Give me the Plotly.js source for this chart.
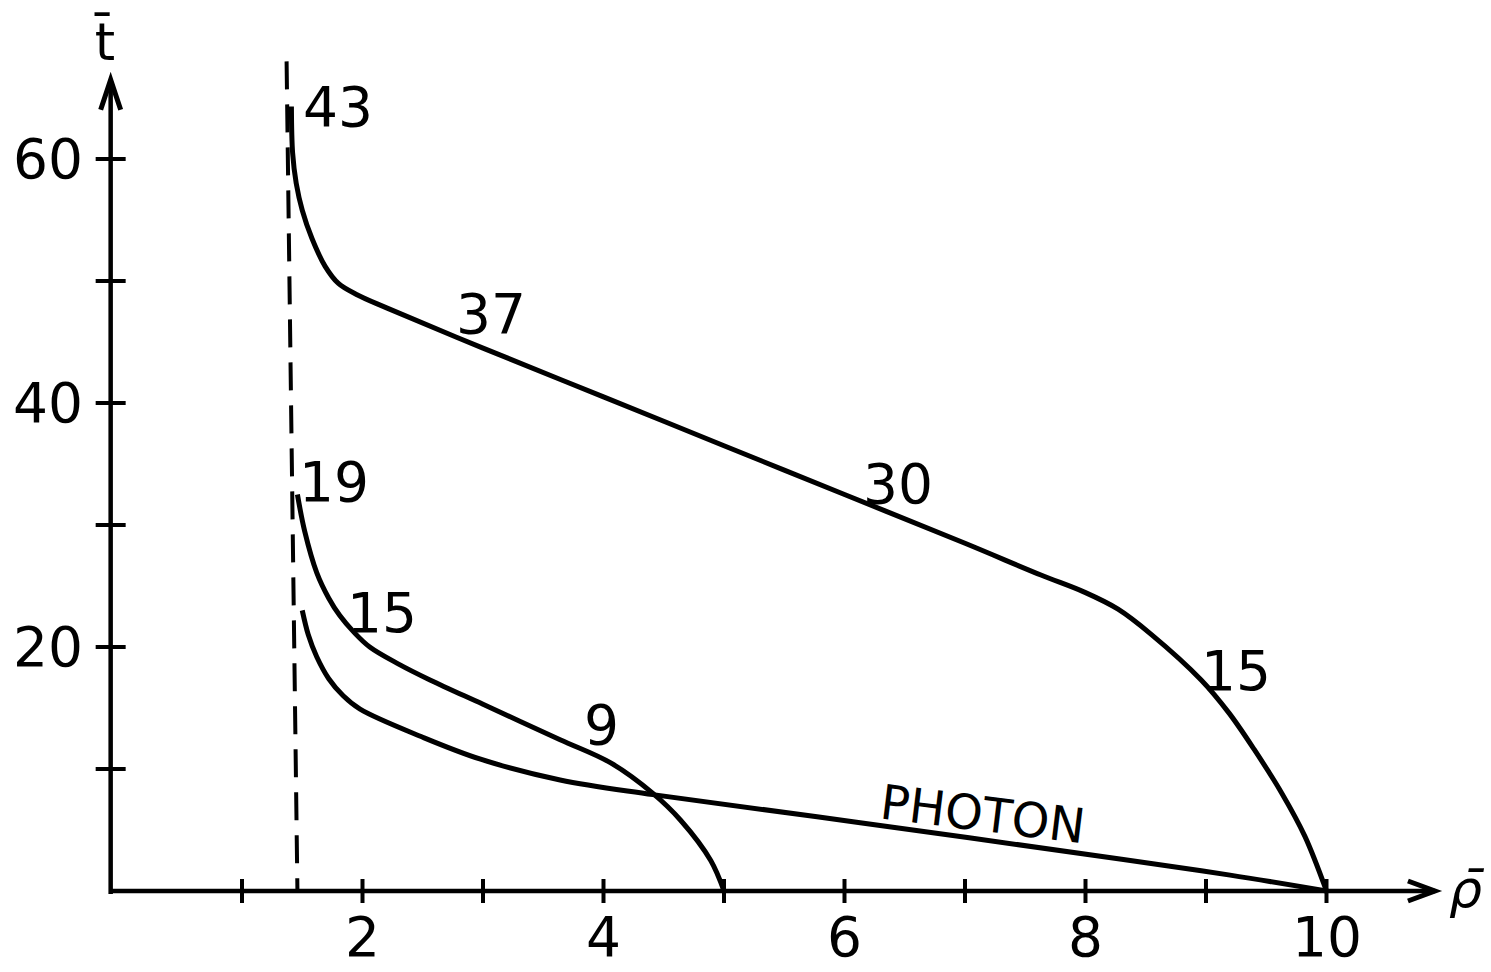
<!DOCTYPE html>
<html>
<head>
<meta charset="utf-8">
<script src="https://cdn.plot.ly/plotly-3.0.1.min.js"></script>
<style>html,body{margin:0;padding:0;background:#fff;}#chart{width:1491px;height:972px;}</style>
</head>
<body>
<div id="chart"></div>
<script>
// ---- data ----
const topCurveX = [1.41, 1.42, 1.45, 1.50, 1.58, 1.69, 1.80, 1.95, 2.2, 3.0, 4.0, 5.0, 6.0, 7.0, 7.63, 7.99, 8.27, 8.55, 8.96, 9.19, 9.40, 9.63, 9.82, 10.0];
const topCurveY = [64.3, 60.5, 58.0, 55.8, 53.5, 51.2, 49.8, 48.9, 47.8, 44.5, 40.5, 36.5, 32.5, 28.5, 25.9, 24.5, 23.1, 21.0, 17.3, 14.6, 11.6, 8.0, 4.5, 0];

const midCurveX = [1.46, 1.52, 1.62, 1.72, 1.81, 1.93, 2.06, 2.3, 2.56, 3.0, 3.64, 4.06, 4.41, 4.64, 4.89, 5.0];
const midCurveY = [32.5, 29.5, 26.1, 24.0, 22.6, 21.2, 20.0, 18.6, 17.3, 15.3, 12.4, 10.5, 8.0, 5.8, 2.5, 0];

const photonX = [1.50, 1.55, 1.62, 1.72, 1.84, 1.98, 2.5, 2.98, 3.64, 4.41, 6.13, 8.30, 9.2, 10.0];
const photonY = [23.0, 21.0, 19.2, 17.4, 16.0, 14.9, 12.6, 10.8, 9.1, 7.9, 5.6, 2.6, 1.3, 0];

const curveLabels = ['43', '37', '30', '19', '15', '9', '15', 'PHOTON'];
const curveLabelX = [1.80, 3.07, 6.44, 1.76, 2.16, 3.98, 9.25, 7.15];
const curveLabelY = [64.3, 47.3, 33.4, 33.5, 22.8, 13.6, 18.0, 6.3];

const xTickVals = [1, 2, 3, 4, 5, 6, 7, 8, 9, 10];
const xTickLabels = ['', '2', '', '4', '', '6', '', '8', '', '10'];
const yTickVals = [10, 20, 30, 40, 50, 60];
const yTickLabels = ['', '20', '', '40', '', '60'];

const asymptoteX = [1.37, 1.46];
const asymptoteY = [68.0, 0];

const xTitle = 'ρ̄';
const yTitle = 't̄';

// ---- geometry helpers (axis decoration) ----
const X_RANGE = [-1.0083, 11.3651];
const Y_RANGE = [-6.639, 73.033];
const PX_X = 1491 / (X_RANGE[1] - X_RANGE[0]);
const PX_Y = 972 / (Y_RANGE[1] - Y_RANGE[0]);
const yAxisX = -0.09;
const xAxisEnd = 10.9;
const yAxisEnd = 66.5;
const ink = '#000';

const shapes = [];
// axes
shapes.push({type:'line', x0:yAxisX, y0:-0.25, x1:yAxisX, y1:yAxisEnd, line:{color:ink, width:4.5}});
shapes.push({type:'line', x0:yAxisX, y0:0, x1:xAxisEnd, y1:0, line:{color:ink, width:4.5}});
// open arrowheads
shapes.push({type:'path', path:`M ${yAxisX - 10/PX_X} ${yAxisEnd - 30/PX_Y} L ${yAxisX} ${yAxisEnd} L ${yAxisX + 10/PX_X} ${yAxisEnd - 30/PX_Y}`, line:{color:ink, width:5}});
shapes.push({type:'path', path:`M ${xAxisEnd - 27/PX_X} ${10/PX_Y} L ${xAxisEnd} 0 L ${xAxisEnd - 27/PX_X} ${-10/PX_Y}`, line:{color:ink, width:5}});
// crossing ticks
xTickVals.forEach(v => shapes.push({type:'line', x0:v, x1:v, y0:-12/PX_Y, y1:12/PX_Y, line:{color:ink, width:4}}));
yTickVals.forEach(v => shapes.push({type:'line', y0:v, y1:v, x0:yAxisX - 15/PX_X, x1:yAxisX + 15/PX_X, line:{color:ink, width:4}}));
// dashed asymptote
shapes.push({type:'line', x0:asymptoteX[0], y0:asymptoteY[0], x1:asymptoteX[1], y1:asymptoteY[1], line:{color:ink, width:4, dash:'28px,15px'}});

const font = 'DejaVu Sans, Liberation Sans, sans-serif';
const annotations = [];
curveLabels.forEach((t, i) => {
  annotations.push({x:curveLabelX[i], y:curveLabelY[i], text:t, showarrow:false, xanchor:'center', yanchor:'middle',
    textangle: t === 'PHOTON' ? 7 : 0,
    font:{family:font, size: t === 'PHOTON' ? 48 : 55, color:ink}});
});
xTickVals.forEach((v, i) => {
  if (xTickLabels[i]) annotations.push({x:v, y:-3.8, text:xTickLabels[i], showarrow:false, xanchor:'center', yanchor:'middle', font:{family:font, size:55, color:ink}});
});
yTickVals.forEach((v, i) => {
  if (yTickLabels[i]) annotations.push({x:-0.61, y:v, text:yTickLabels[i], showarrow:false, xanchor:'center', yanchor:'middle', font:{family:font, size:55, color:ink}});
});
annotations.push({x:-0.145, y:69.6, text:yTitle, showarrow:false, xanchor:'center', yanchor:'middle', font:{family:font, size:52, color:ink}});
annotations.push({x:11.17, y:0.2, text:'<i>' + xTitle + '</i>', showarrow:false, xanchor:'center', yanchor:'middle', font:{family:font, size:52, color:ink}});

const lineStyle = {color:ink, width:5, shape:'spline', smoothing:1.0};
const traces = [
  {x:topCurveX, y:topCurveY, mode:'lines', line:lineStyle, hoverinfo:'skip'},
  {x:midCurveX, y:midCurveY, mode:'lines', line:lineStyle, hoverinfo:'skip'},
  {x:photonX, y:photonY, mode:'lines', line:lineStyle, hoverinfo:'skip'}
];

const layout = {
  width:1491, height:972,
  margin:{l:0, r:0, t:0, b:0, pad:0},
  paper_bgcolor:'#fff', plot_bgcolor:'#fff',
  showlegend:false,
  xaxis:{range:X_RANGE, visible:false, fixedrange:true},
  yaxis:{range:Y_RANGE, visible:false, fixedrange:true},
  shapes:shapes,
  annotations:annotations
};

Plotly.newPlot('chart', traces, layout, {staticPlot:true, displayModeBar:false});
</script>
</body>
</html>
